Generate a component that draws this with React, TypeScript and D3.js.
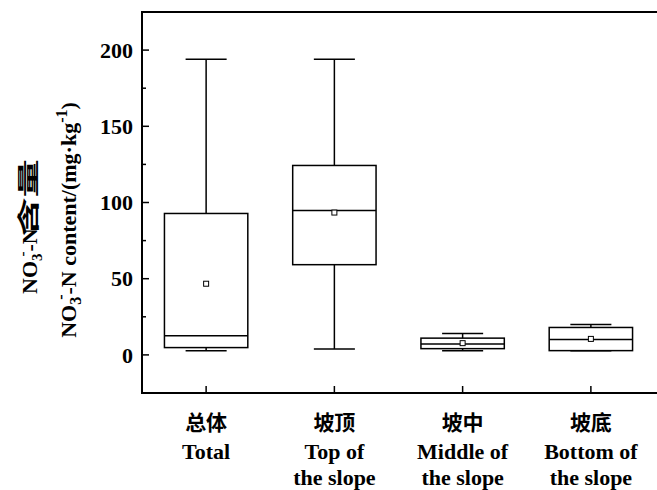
import React from 'react';
import * as d3 from 'd3';

const categoriesCn = ['总体', '坡顶', '坡中', '坡底'];
const categoriesEn = [['Total'], ['Top of', 'the slope'], ['Middle of', 'the slope'], ['Bottom of', 'the slope']];
const whiskerLow = [2.8, 3.9, 2.8, 2.8];
const q1 = [4.8, 59.2, 4.1, 2.8];
const median = [12.5, 94.7, 7.2, 10.1];
const q3 = [92.8, 124.3, 11, 18];
const whiskerHigh = [194, 194, 14, 19.9];
const means = [46.7, 93.4, 7.7, 10.5];
const yTicks = [0, 50, 100, 150, 200];
const yMinorTicks = [-25, 25, 75, 125, 175, 225];

const W = 657;
const H = 490;
const margin = { left: 142, top: 12, right: 2, bottom: 97 };
const serif = '"Times New Roman", "Liberation Serif", serif';
const cjk = '"Noto Sans CJK SC", sans-serif';

export default function App() {
  const x = d3.scaleBand<number>()
    .domain(d3.range(categoriesCn.length))
    .range([margin.left, W - margin.right])
    .padding(0);
  const y = d3.scaleLinear().domain([-25, 225]).range([H - margin.bottom, margin.top]);
  const boxW = x.bandwidth() * 0.65;
  const capW = x.bandwidth() * 0.32;
  const cx = (i: number) => (x(i) as number) + x.bandwidth() / 2;
  const x0 = margin.left;
  const y0 = H - margin.bottom;
  const y1 = margin.top;

  return (
    <div style={{ position: 'absolute', left: 0, top: 0 }}>
      <svg width={W} height={H} style={{ display: 'block', background: '#fff' }}>
        {/* boxes */}
        {categoriesCn.map((_, i) => (
          <g key={i} stroke="#000" strokeWidth={1.5} fill="none">
            <line x1={cx(i)} x2={cx(i)} y1={y(whiskerHigh[i])} y2={y(q3[i])} />
            <line x1={cx(i)} x2={cx(i)} y1={y(q1[i])} y2={y(whiskerLow[i])} />
            <line x1={cx(i) - capW / 2} x2={cx(i) + capW / 2} y1={y(whiskerHigh[i])} y2={y(whiskerHigh[i])} />
            <line x1={cx(i) - capW / 2} x2={cx(i) + capW / 2} y1={y(whiskerLow[i])} y2={y(whiskerLow[i])} />
            <rect x={cx(i) - boxW / 2} y={y(q3[i])} width={boxW} height={y(q1[i]) - y(q3[i])} />
            <line x1={cx(i) - boxW / 2} x2={cx(i) + boxW / 2} y1={y(median[i])} y2={y(median[i])} />
            <rect x={cx(i) - 2.5} y={y(means[i]) - 2.5} width={5} height={5} strokeWidth={1} fill="#fff" />
          </g>
        ))}

        {/* frame: right side falls outside the picture */}
        <path d={`M${W + 5},${y1}H${x0}V${y0}H${W + 5}`} fill="none" stroke="#000" strokeWidth={2} />

        {/* y ticks */}
        {yTicks.map(t => (
          <g key={t}>
            <line x1={x0} x2={x0 + 7} y1={y(t)} y2={y(t)} stroke="#000" strokeWidth={1.5} />
            <text x={x0 - 9} y={y(t)} dy="0.35em" textAnchor="end" fontFamily={serif} fontWeight="bold" fontSize={22}>{t}</text>
          </g>
        ))}
        {yMinorTicks.map(t => (
          <line key={t} x1={x0} x2={x0 + 4} y1={y(t)} y2={y(t)} stroke="#000" strokeWidth={1.5} />
        ))}

        {/* x ticks and labels */}
        {categoriesCn.map((c, i) => (
          <g key={c}>
            <line x1={cx(i)} x2={cx(i)} y1={y0} y2={y0 - 7} stroke="#000" strokeWidth={1.5} />
            <text x={cx(i)} y={430} textAnchor="middle" fontFamily={cjk} fontWeight="bold" fontSize={21}>{c}</text>
            {categoriesEn[i].map((line, j) => (
              <text key={j} x={cx(i)} y={459 + j * 26} textAnchor="middle" fontFamily={serif} fontWeight="bold" fontSize={22}>{line}</text>
            ))}
          </g>
        ))}

        {/* y labels */}
        <text transform="translate(37,294) rotate(-90)" fontFamily={serif} fontWeight="bold" fontSize={22}>
          NO<tspan fontSize={15} dy={5}>3</tspan><tspan fontSize={15} dx={-3} dy={-15}>-</tspan><tspan dy={10}>-N</tspan>
        </text>
        <text transform="translate(36,236) rotate(-90) scale(1.75,1)" fontFamily={cjk} fontWeight="bold" fontSize={22}>含量</text>
        <text transform="translate(76,220) rotate(-90)" textAnchor="middle" fontFamily={serif} fontWeight="bold" fontSize={22}>
          NO<tspan fontSize={16} dy={5}>3</tspan><tspan fontSize={16} dx={-3} dy={-15}>-</tspan><tspan dy={10}>-N content/(mg·kg</tspan><tspan fontSize={16} dy={-9}>-1</tspan><tspan dy={9}>)</tspan>
        </text>
      </svg>
    </div>
  );
}
